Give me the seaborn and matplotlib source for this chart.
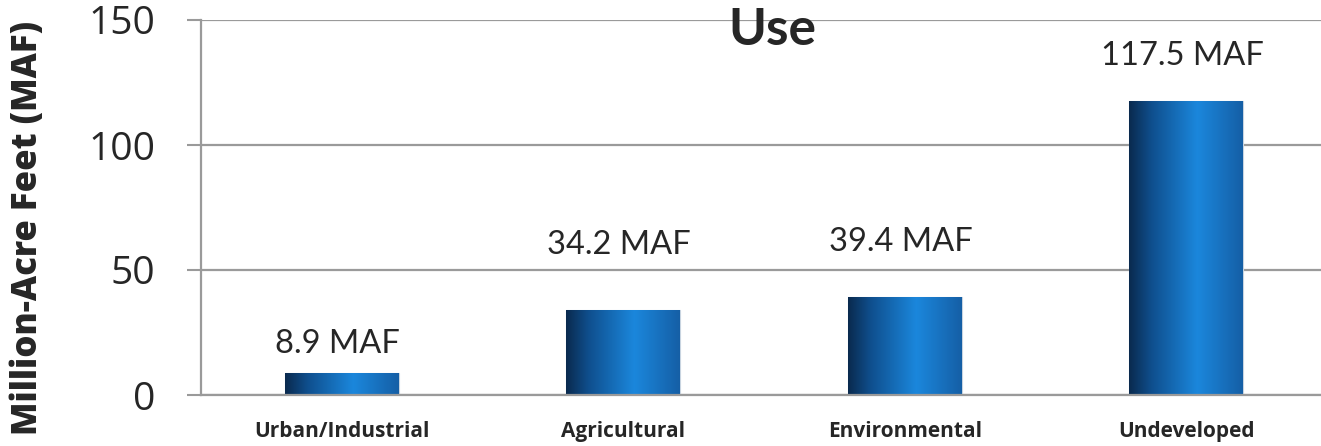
import numpy as np
import seaborn as sns
import matplotlib.pyplot as plt
from matplotlib.colors import LinearSegmentedColormap

# Chart data
categories = ['Urban/Industrial', 'Agricultural', 'Environmental', 'Undeveloped']
values = [8.9, 34.2, 39.4, 117.5]
value_labels = ['8.9 MAF', '34.2 MAF', '39.4 MAF', '117.5 MAF']
y_ticks = [0, 50, 100, 150]

# label heights above each bar (points), as placed in the original
label_offsets = [14, 40, 33, 26]

sns.set_style('white')
plt.rcParams['font.family'] = ['Open Sans', 'DejaVu Sans']

W, H = 1321, 446
fig = plt.figure(figsize=(W / 100, H / 100), dpi=100)
ax = fig.add_axes([201 / W, 51 / H, (1327 - 201) / W, 375 / H])

sns.barplot(x=categories, y=values, ax=ax, width=0.404, color='#1a75c8',
            edgecolor='#c8d4e0', linewidth=0.8, zorder=2)

# cylinder-like shading on each bar
bar_cmap = LinearSegmentedColormap.from_list(
    'bar', [(0.0, '#0a2a4e'), (0.2, '#0f4f8e'), (0.6, '#1b87dc'), (1.0, '#155fa6')])
grad = np.linspace(0, 1, 256).reshape(1, -1)
for p in ax.patches:
    x0, y0 = p.get_x(), p.get_y()
    w, h = p.get_width(), p.get_height()
    im = ax.imshow(grad, extent=[x0, x0 + w, y0, y0 + h], aspect='auto',
                   cmap=bar_cmap, zorder=2.5)
    im.set_clip_path(p)

ax.set_xlim(-0.5, 3.5)
ax.set_ylim(0, 150)
ax.set_yticks(y_ticks)
ax.set_xlabel('')
ax.set_ylabel('')

grid_col = '#9a9a9a'
ax.yaxis.grid(True, color=grid_col, linewidth=1.6)
ax.set_axisbelow(True)
for side in ['top', 'right']:
    ax.spines[side].set_visible(False)
for side in ['left', 'bottom']:
    ax.spines[side].set_color(grid_col)
    ax.spines[side].set_linewidth(1.6)

ax.tick_params(axis='y', length=10, width=1.5, color=grid_col, pad=23,
               labelsize=28, left=True)
ax.tick_params(axis='x', length=0, pad=19)
for lab in ax.get_xticklabels():
    lab.set_fontsize(15)
    lab.set_fontweight('bold')

# value labels above bars
for i, (v, txt) in enumerate(zip(values, value_labels)):
    ax.annotate(txt, xy=(i, v), xytext=(-3, label_offsets[i]),
                textcoords='offset points', ha='center', va='baseline',
                fontsize=23.5, family=['Lato', 'DejaVu Sans'], zorder=4)

# title inside plot area
fig.text(772 / W, 1 - 45 / H, 'Use', ha='center', va='baseline',
         fontsize=37, fontweight='bold', family=['Lato', 'DejaVu Sans'])

fig.text(28 / W, 1 - 228 / H, 'Million-Acre Feet (MAF)', rotation=90,
         ha='center', va='center', fontsize=25, fontweight='heavy')

fig.savefig('out.png', dpi=100)
